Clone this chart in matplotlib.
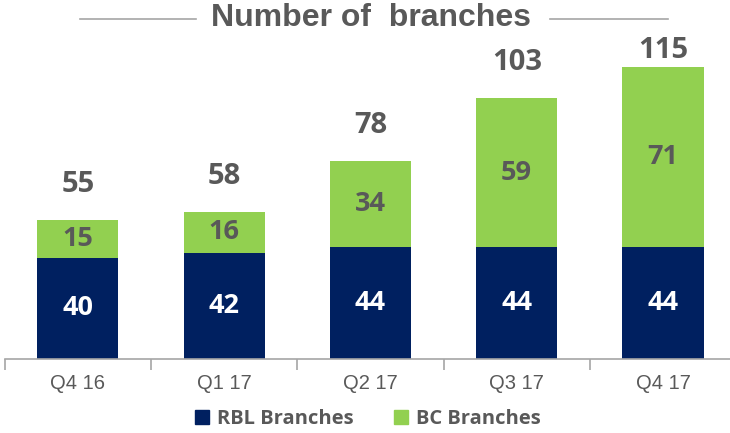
import matplotlib
matplotlib.use("Agg")
import matplotlib.pyplot as plt
from matplotlib.patches import Patch
from matplotlib import font_manager

quarters = ["Q4 16", "Q1 17", "Q2 17", "Q3 17", "Q4 17"]
rbl = [40, 42, 44, 44, 44]
bc = [15, 16, 34, 59, 71]
totals = [r + b for r, b in zip(rbl, bc)]

navy = "#002060"
green = "#92D050"
grey = "#595959"

names = {f.name for f in font_manager.fontManager.ttflist}
narrow = "Liberation Sans Narrow" if "Liberation Sans Narrow" in names else "Liberation Sans"
bold_font = "Open Sans"

fig = plt.figure(figsize=(7.30, 4.33), dpi=100)
ax = fig.add_axes([4.7 / 730, 74 / 433, 731.5 / 730, 355 / 433])
x = range(len(quarters))
w = 0.555
ax.bar(x, rbl, width=w, color=navy, zorder=2)
ax.bar(x, bc, width=w, bottom=rbl, color=green, zorder=2)
ax.set_xlim(-0.5, len(quarters) - 0.5)
ax.set_ylim(0, 140)

for i in x:
    ax.text(i, rbl[i] / 2, str(rbl[i]), ha="center", va="center", color="white",
            fontsize=19.5, fontweight="bold", family=bold_font)
    ax.text(i, rbl[i] + bc[i] / 2, str(bc[i]), ha="center", va="center", color=grey,
            fontsize=19.5, fontweight="bold", family=bold_font)
    ty = min(totals[i] + 14, 121.5)
    ax.text(i, ty, str(totals[i]), ha="center", va="center", color=grey,
            fontsize=21, fontweight="bold", family=bold_font)

for s in ["top", "right", "left"]:
    ax.spines[s].set_visible(False)
ax.spines["bottom"].set_color("#a6a6a6")
ax.spines["bottom"].set_linewidth(1.2)
ax.set_yticks([])
ax.set_xticks([i - 0.5 for i in range(len(quarters) + 1)])
ax.set_xticklabels([])
ax.tick_params(axis="x", length=8, width=1.2, color="#a6a6a6")
ax.set_xticks(list(x), minor=True)
ax.set_xticklabels(quarters, minor=True, fontsize=14.5, color=grey, family=narrow)
ax.tick_params(axis="x", which="minor", length=0, pad=11)

# Title with side lines
fig.text(371 / 730, 1 - 18 / 433, "Number of  branches", ha="center", va="center",
         fontsize=23, fontweight="bold", color=grey, family=narrow)
fig.add_artist(plt.Line2D([80 / 730, 196 / 730], [1 - 19 / 433] * 2, color="#a6a6a6", lw=1.2))
fig.add_artist(plt.Line2D([550 / 730, 668 / 730], [1 - 19 / 433] * 2, color="#a6a6a6", lw=1.2))

handles = [Patch(color=navy, label="RBL Branches"), Patch(color=green, label="BC Branches")]
leg = fig.legend(handles=handles, loc="center", bbox_to_anchor=(368 / 730, 1 - 419 / 433),
                 ncol=2, frameon=False, handlelength=0.7, handleheight=0.7,
                 handletextpad=0.4, columnspacing=2.0,
                 prop={"family": bold_font, "weight": "bold", "size": 14.5})
for t in leg.get_texts():
    t.set_color(grey)

fig.savefig("out.png", dpi=100)
